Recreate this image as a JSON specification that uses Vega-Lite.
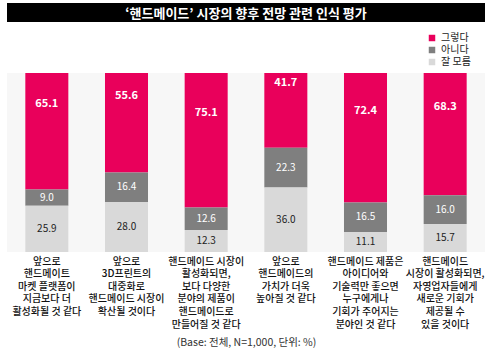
{
  "$schema": "https://vega.github.io/schema/vega-lite/v6.json",
  "padding": {"left": 7, "top": 3, "right": 0, "bottom": 0},
  "background": "white",
  "config": {"font": "Noto Sans CJK KR", "view": {"stroke": null}},
  "datasets": {
    "main": [
      {"cat": "앞으로\n핸드메이트\n마켓 플랫폼이\n지금보다 더\n활성화될 것 같다", "series": "그렇다", "value": 65.1, "ord": 2},
      {"cat": "앞으로\n핸드메이트\n마켓 플랫폼이\n지금보다 더\n활성화될 것 같다", "series": "아니다", "value": 9.0, "ord": 1},
      {"cat": "앞으로\n핸드메이트\n마켓 플랫폼이\n지금보다 더\n활성화될 것 같다", "series": "잘 모름", "value": 25.9, "ord": 0},
      {"cat": "앞으로\n3D프린트의\n대중화로\n핸드메이드 시장이\n확산될 것이다", "series": "그렇다", "value": 55.6, "ord": 2},
      {"cat": "앞으로\n3D프린트의\n대중화로\n핸드메이드 시장이\n확산될 것이다", "series": "아니다", "value": 16.4, "ord": 1},
      {"cat": "앞으로\n3D프린트의\n대중화로\n핸드메이드 시장이\n확산될 것이다", "series": "잘 모름", "value": 28.0, "ord": 0},
      {"cat": "핸드메이드 시장이\n활성화되면,\n보다 다양한\n분야의 제품이\n핸드메이드로\n만들어질 것 같다", "series": "그렇다", "value": 75.1, "ord": 2},
      {"cat": "핸드메이드 시장이\n활성화되면,\n보다 다양한\n분야의 제품이\n핸드메이드로\n만들어질 것 같다", "series": "아니다", "value": 12.6, "ord": 1},
      {"cat": "핸드메이드 시장이\n활성화되면,\n보다 다양한\n분야의 제품이\n핸드메이드로\n만들어질 것 같다", "series": "잘 모름", "value": 12.3, "ord": 0},
      {"cat": "앞으로\n핸드메이드의\n가치가 더욱\n높아질 것 같다", "series": "그렇다", "value": 41.7, "ord": 2},
      {"cat": "앞으로\n핸드메이드의\n가치가 더욱\n높아질 것 같다", "series": "아니다", "value": 22.3, "ord": 1},
      {"cat": "앞으로\n핸드메이드의\n가치가 더욱\n높아질 것 같다", "series": "잘 모름", "value": 36.0, "ord": 0},
      {"cat": "핸드메이드 제품은\n아이디어와\n기술력만 좋으면\n누구에게나\n기회가 주어지는\n분야인 것 같다", "series": "그렇다", "value": 72.4, "ord": 2},
      {"cat": "핸드메이드 제품은\n아이디어와\n기술력만 좋으면\n누구에게나\n기회가 주어지는\n분야인 것 같다", "series": "아니다", "value": 16.5, "ord": 1},
      {"cat": "핸드메이드 제품은\n아이디어와\n기술력만 좋으면\n누구에게나\n기회가 주어지는\n분야인 것 같다", "series": "잘 모름", "value": 11.1, "ord": 0},
      {"cat": "핸드메이드\n시장이 활성화되면,\n자영업자들에게\n새로운 기회가\n제공될 수\n있을 것이다", "series": "그렇다", "value": 68.3, "ord": 2},
      {"cat": "핸드메이드\n시장이 활성화되면,\n자영업자들에게\n새로운 기회가\n제공될 수\n있을 것이다", "series": "아니다", "value": 16.0, "ord": 1},
      {"cat": "핸드메이드\n시장이 활성화되면,\n자영업자들에게\n새로운 기회가\n제공될 수\n있을 것이다", "series": "잘 모름", "value": 15.7, "ord": 0}
    ]
  },
  "spacing": 51,
  "vconcat": [
    {
      "width": 478,
      "height": 19,
      "view": {"fill": "#000000", "stroke": null},
      "data": {"values": [{"t": "‘핸드메이드’ 시장의 향후 전망 관련 인식 평가"}]},
      "mark": {"type": "text", "color": "white", "fontSize": 13, "fontWeight": "bold", "baseline": "middle", "align": "center", "dy": 1},
      "encoding": {"text": {"field": "t"}}
    },
    {
      "width": 478,
      "height": 179,
      "view": {"fill": "#F7F7F7", "stroke": null},
      "data": {"name": "main"},
      "transform": [
        {"stack": "value", "groupby": ["cat"], "sort": [{"field": "ord", "order": "ascending"}], "as": ["v0", "v1"]},
        {"calculate": "(datum.v0 + datum.v1) / 2", "as": "mid"},
        {"calculate": "format(datum.value, '.1f')", "as": "lab"}
      ],
      "encoding": {
        "x": {
          "field": "cat", "type": "nominal", "sort": null,
          "scale": {"paddingInner": 0.46, "paddingOuter": 0.23},
          "axis": {
            "title": "(Base: 전체, N=1,000, 단위: %)",
            "titleFontSize": 10.5, "titleFontWeight": "normal", "titleColor": "#333333", "titlePadding": 8,
            "labelAngle": 0, "labelExpr": "split(datum.label, '\\n')",
            "labelFontSize": 10, "labelFontWeight": 500, "labelColor": "#111111", "labelLineHeight": 12.6, "labelPadding": 4,
            "labelBaseline": "top",
            "ticks": false, "domain": false, "labelLimit": 0
          }
        }
      },
      "layer": [
        {
          "mark": {"type": "bar"},
          "encoding": {
            "y": {"field": "v0", "type": "quantitative", "scale": {"domain": [0, 100], "nice": false}, "axis": null},
            "y2": {"field": "v1"},
            "color": {
              "field": "series", "type": "nominal",
              "scale": {"domain": ["그렇다", "아니다", "잘 모름"], "range": ["#E9005B", "#7F7F7F", "#D9D9D9"]},
              "legend": {
                "title": null, "orient": "none", "legendX": 420, "legendY": 30,
                "symbolType": "square", "symbolSize": 42, "symbolStrokeWidth": 0,
                "labelFontSize": 10, "labelColor": "#222222", "rowPadding": 2, "labelOffset": 4
              }
            }
          }
        },
        {
          "transform": [{"filter": "datum.series === '그렇다'"}],
          "mark": {"type": "text", "color": "white", "fontSize": 11, "fontWeight": "bold", "baseline": "middle", "dy": -27},
          "encoding": {
            "y": {"field": "mid", "type": "quantitative"},
            "text": {"field": "lab"}
          }
        },
        {
          "transform": [{"filter": "datum.series === '아니다'"}],
          "mark": {"type": "text", "color": "white", "fontSize": 10, "baseline": "middle"},
          "encoding": {
            "y": {"field": "mid", "type": "quantitative"},
            "text": {"field": "lab"}
          }
        },
        {
          "transform": [{"filter": "datum.series === '잘 모름'"}],
          "mark": {"type": "text", "color": "#222222", "fontSize": 10, "baseline": "middle"},
          "encoding": {
            "y": {"field": "mid", "type": "quantitative"},
            "text": {"field": "lab"}
          }
        }
      ]
    }
  ]
}
